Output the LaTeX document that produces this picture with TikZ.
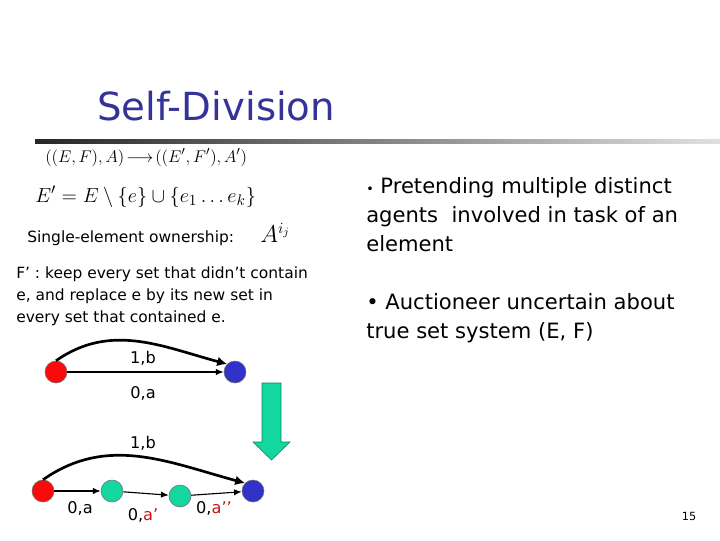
\documentclass[tikz,border=0pt]{standalone}
\usepackage[no-math]{fontspec}
\setmainfont{DejaVu Sans}
\usetikzlibrary{arrows.meta}
\begin{document}
\begin{tikzpicture}[x=0.025cm,y=0.025cm]
\definecolor{titleblue}{RGB}{51,51,153}
\definecolor{nodered}{RGB}{250,10,10}
\definecolor{nodeblue}{RGB}{50,50,200}
\definecolor{nodegreen}{RGB}{20,215,160}
\definecolor{primered}{RGB}{200,20,20}
\tikzset{
  vert/.style={draw=black!55, circle, minimum size=0.55cm, inner sep=0pt},
  lbl/.style={font=\fontsize{11.5}{13}\selectfont, inner sep=0pt},
  txt/.style={anchor=base west, inner sep=0pt},
  lefttxt/.style={txt, font=\fontsize{11}{13}\selectfont},
  righttxt/.style={txt, font=\fontsize{15}{17}\selectfont},
  edge/.style={draw, line width=0.8pt, -{Latex[length=5.5pt,width=4.5pt]}},
  arc/.style={draw, line width=1.9pt, -{Latex[length=7pt,width=7pt]}},
}
\useasboundingbox (0,0) rectangle (720,-540);

% title and rule
\node[txt, text=titleblue, font=\fontsize{27.5}{30}\selectfont] (title) at (97,-120) {Self-Division};
\shade[left color=black!85, right color=black!12] (35,-139) rectangle (720,-143);

% left column
\node[txt, font=\fontsize{12.5}{14}\selectfont] (map) at (45,-162) {$((E,F),A)\!\longrightarrow\!((E',F'),A')$};
\node[txt, font=\fontsize{15}{17}\selectfont] (eprime) at (35,-202) {$E'=E\setminus\{e\}\cup\{e_1\ldots e_k\}$};
\node[lefttxt] (single) at (27,-242) {Single-element ownership:};
\node[txt, font=\fontsize{16}{18}\selectfont] (aij) at (260,-242) {$A^{i_j}$};
\node[lefttxt] (fline1) at (16,-278) {F’ : keep every set that didn’t contain};
\node[lefttxt] (fline2) at (16,-300) {e, and replace e by its new set in};
\node[lefttxt] (fline3) at (16,-322) {every set that contained e.};

% right column
\node[righttxt] (pline1) at (366,-193) {{\fontsize{9}{10}\selectfont •} Pretending multiple distinct};
\node[righttxt] (pline2) at (366,-222) {agents\ \ involved in task of an};
\node[righttxt] (pline3) at (366,-251) {element};
\node[righttxt] (aline1) at (366,-309) {• Auctioneer uncertain about};
\node[righttxt] (aline2) at (366,-338) {true set system (E, F)};

% original graph
\node[vert, fill=nodered] (r1) at (56,-372) {};
\node[vert, fill=nodeblue] (b1) at (235,-372) {};
\path[edge] (r1) -- (b1);
\path[arc] (r1.north) to[out=35,in=165] (b1.north west);
\node[lbl] (top1b) at (143,-358) {1,b};
\node[lbl] (top0a) at (143,-393) {0,a};

% transformation arrow
\filldraw[fill=nodegreen, draw=nodegreen!60!black, thin]
  (262,-383) -- (281,-383) -- (281,-442) -- (290,-442) -- (271.5,-460)
  -- (253,-442) -- (262,-442) -- cycle;

% divided graph
\node[vert, fill=nodered] (r2) at (43,-491) {};
\node[vert, fill=nodegreen] (g1) at (112,-491) {};
\node[vert, fill=nodegreen] (g2) at (180,-496) {};
\node[vert, fill=nodeblue] (b2) at (253,-491) {};
\path[edge] (r2) -- (g1);
\path[edge] (g1) -- (g2);
\path[edge] (g2) -- (b2);
\path[arc] (r2.north) to[out=35,in=165] (b2.north west);
\node[lbl] (bot1b) at (143,-443) {1,b};
\node[lbl] (bot0a) at (80,-508) {0,a};
\node[lbl] (bot0ap) at (143,-515) {0,\textcolor{primered}{a’}};
\node[lbl] (bot0app) at (214,-508) {0,\textcolor{primered}{a’’}};

% page number
\node[font=\fontsize{8}{9}\selectfont, inner sep=0pt] (pagenum) at (689,-516) {15};
\end{tikzpicture}
\end{document}
